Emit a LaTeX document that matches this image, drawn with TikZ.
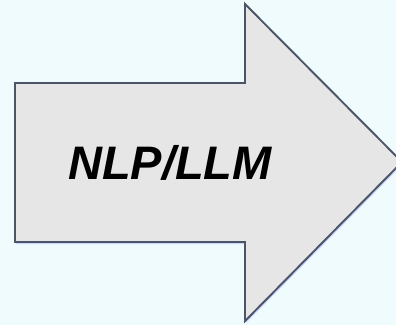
\documentclass[tikz,border=0pt]{standalone}
\usepackage{fontspec}
\setmainfont{Liberation Sans}
\usepackage{xcolor}
\usetikzlibrary{shadows}
\definecolor{bgcyan}{HTML}{F0FBFE}
\definecolor{arrowfill}{HTML}{E6E6E6}
\definecolor{arrowline}{HTML}{4B5568}
\tikzset{
  bigarrow/.style={draw=arrowline, fill=arrowfill, line width=1.9pt, line join=miter,
    drop shadow={shadow xshift=1pt, shadow yshift=-2pt, fill=blue!40, opacity=0.4}},
  arrowlabel/.style={font=\fontsize{47}{52}\selectfont\bfseries\itshape, inner sep=0pt},
}
\begin{document}
\begin{tikzpicture}[x=1pt, y=-1pt]
  \fill[bgcyan] (0,0) rectangle (396,325);
  \useasboundingbox (0,0) rectangle (396,325);
  \clip (0,0) rectangle (396,325);
  % arrow body: shaft, then head
  \draw[bigarrow] (15,83) -- (245,83) -- (245,4) -- (402,162) -- (245,321)
    -- (245,242) -- (15,242) -- cycle;
  \node[arrowlabel] (lbl) at (170,163) {NLP/LLM};
\end{tikzpicture}
\end{document}
